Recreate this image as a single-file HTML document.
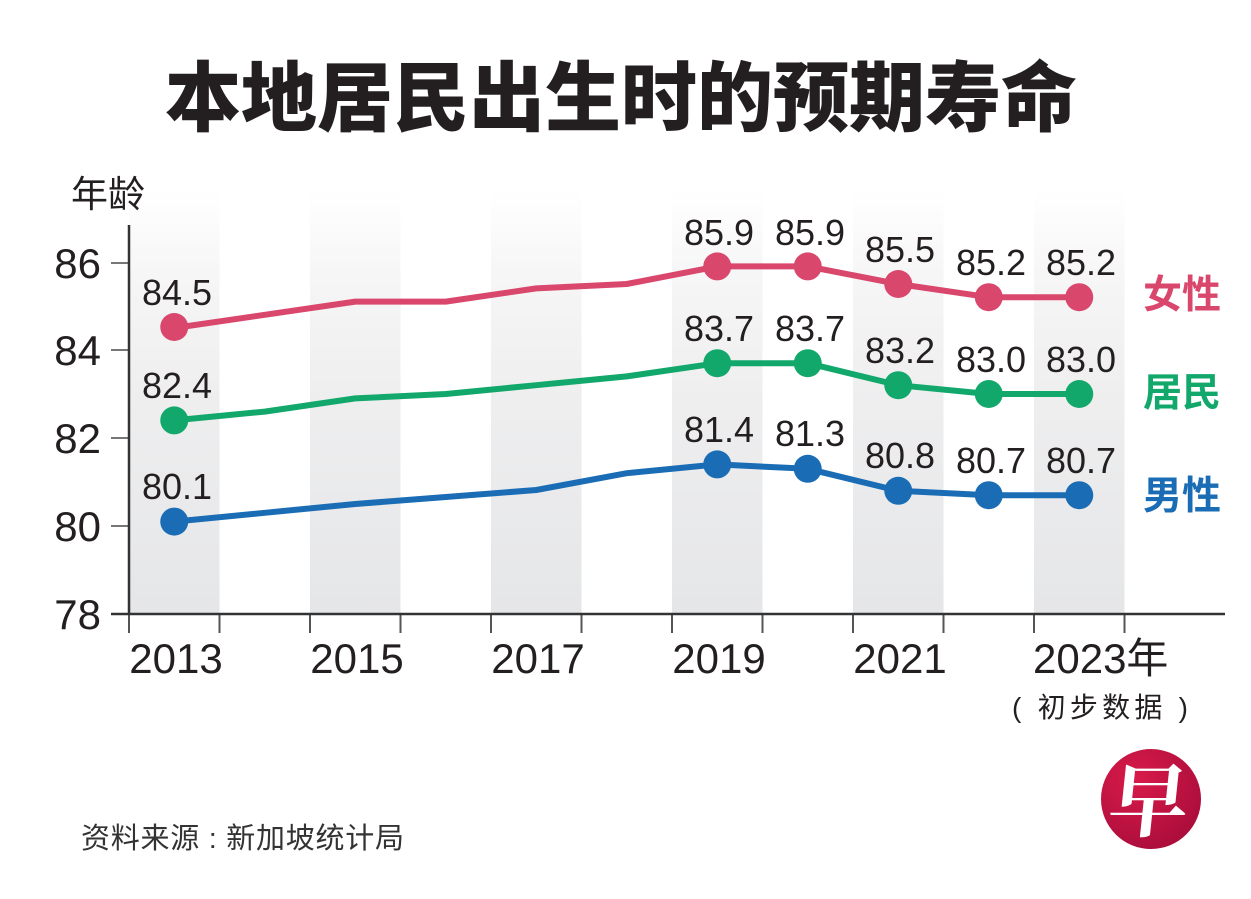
<!DOCTYPE html>
<html>
<head>
<meta charset="utf-8">
<style>
  html, body { margin:0; padding:0; background:#fff; }
  svg { display:block; }
  .num { font-family: "Liberation Sans", Arial, sans-serif; fill:#231f20; }
  .cjk { font-family: "Liberation Sans", "Noto Sans CJK SC", sans-serif; }
</style>
</head>
<body>
<svg width="1251" height="899" viewBox="0 0 1251 899" xmlns="http://www.w3.org/2000/svg">
  <defs>
    <linearGradient id="stripe" x1="0" y1="190" x2="0" y2="614" gradientUnits="userSpaceOnUse">
      <stop offset="0" stop-color="#ffffff"/>
      <stop offset="0.2" stop-color="#f6f6f6"/>
      <stop offset="0.5" stop-color="#eeeeef"/>
      <stop offset="1" stop-color="#e5e6e8"/>
    </linearGradient>
    <radialGradient id="logo" cx="0.35" cy="0.3" r="0.8">
      <stop offset="0" stop-color="#d81b4a"/>
      <stop offset="1" stop-color="#a80c3a"/>
    </radialGradient>
  </defs>

  <rect width="1251" height="899" fill="#fff"/>

  <!-- Title -->
  <text x="165" y="125" class="cjk" font-size="76" font-weight="900" fill="#231f20" textLength="912" lengthAdjust="spacingAndGlyphs">本地居民出生时的预期寿命</text>

  <!-- stripes -->
  <rect x="129" y="190" width="90.5" height="424" fill="url(#stripe)"/>
  <rect x="310" y="190" width="90.5" height="424" fill="url(#stripe)"/>
  <rect x="491" y="190" width="90.5" height="424" fill="url(#stripe)"/>
  <rect x="672" y="190" width="90.5" height="424" fill="url(#stripe)"/>
  <rect x="853" y="190" width="90.5" height="424" fill="url(#stripe)"/>
  <rect x="1034" y="190" width="90.5" height="424" fill="url(#stripe)"/>

  <!-- Y label -->
  <text x="71" y="207" class="cjk" font-size="37" fill="#231f20">年龄</text>

  <!-- Y ticks -->
  <g stroke="#777" stroke-width="2">
    <line x1="111" y1="263" x2="129" y2="263"/>
    <line x1="111" y1="350" x2="129" y2="350"/>
    <line x1="111" y1="438" x2="129" y2="438"/>
    <line x1="111" y1="526" x2="129" y2="526"/>
  </g>
  <!-- X ticks -->
  <g stroke="#555" stroke-width="2">
    <line x1="129" y1="614" x2="129" y2="633"/>
    <line x1="219.5" y1="614" x2="219.5" y2="633"/>
    <line x1="310" y1="614" x2="310" y2="633"/>
    <line x1="400.5" y1="614" x2="400.5" y2="633"/>
    <line x1="491" y1="614" x2="491" y2="633"/>
    <line x1="581.5" y1="614" x2="581.5" y2="633"/>
    <line x1="672" y1="614" x2="672" y2="633"/>
    <line x1="762.5" y1="614" x2="762.5" y2="633"/>
    <line x1="853" y1="614" x2="853" y2="633"/>
    <line x1="943.5" y1="614" x2="943.5" y2="633"/>
    <line x1="1034" y1="614" x2="1034" y2="633"/>
    <line x1="1124.5" y1="614" x2="1124.5" y2="633"/>
  </g>
  <!-- axes -->
  <line x1="129" y1="225" x2="129" y2="615" stroke="#333" stroke-width="2.5"/>
  <line x1="111" y1="614" x2="1225" y2="614" stroke="#333" stroke-width="2.5"/>

  <!-- Y tick labels -->
  <g class="num" font-size="42" text-anchor="end">
    <text x="101" y="278">86</text>
    <text x="101" y="365">84</text>
    <text x="101" y="453">82</text>
    <text x="101" y="541">80</text>
    <text x="101" y="629">78</text>
  </g>

  <!-- X tick labels -->
  <g class="num" font-size="42" text-anchor="middle">
    <text x="176" y="673">2013</text>
    <text x="357" y="673">2015</text>
    <text x="538" y="673">2017</text>
    <text x="719" y="673">2019</text>
    <text x="900" y="673">2021</text>
  </g>
  <text x="1033" y="673" class="num cjk" font-size="42" fill="#231f20">2023年</text>
  <text x="1100" y="717" class="cjk" font-size="28" fill="#231f20" text-anchor="middle" textLength="176" lengthAdjust="spacing">( 初步数据 )</text>

  <!-- Female -->
  <polyline fill="none" stroke="#d9476d" stroke-width="6" stroke-linejoin="round"
    points="174.25,328 264.75,314.8 355.25,301.6 445.75,301.6 536.25,288.4 626.75,284 717.25,266.4 807.75,266.4 898.25,284 988.75,297.2 1079.25,297.2"/>
  <g fill="#d9476d">
    <circle cx="174.25" cy="327" r="14"/>
    <circle cx="717.25" cy="266.4" r="14"/>
    <circle cx="807.75" cy="266.4" r="14"/>
    <circle cx="898.25" cy="284" r="14"/>
    <circle cx="988.75" cy="297.2" r="14"/>
    <circle cx="1079.25" cy="297.2" r="14"/>
  </g>

  <!-- Residents -->
  <polyline fill="none" stroke="#12a86b" stroke-width="6" stroke-linejoin="round"
    points="174.25,420.4 264.75,411.6 355.25,398.4 445.75,394 536.25,385.2 626.75,376.4 717.25,363.2 807.75,363.2 898.25,385.2 988.75,394 1079.25,394"/>
  <g fill="#12a86b">
    <circle cx="174.25" cy="420.4" r="14"/>
    <circle cx="717.25" cy="363.2" r="14"/>
    <circle cx="807.75" cy="363.2" r="14"/>
    <circle cx="898.25" cy="385.2" r="14"/>
    <circle cx="988.75" cy="394" r="14"/>
    <circle cx="1079.25" cy="394" r="14"/>
  </g>

  <!-- Male -->
  <polyline fill="none" stroke="#1a6db5" stroke-width="6" stroke-linejoin="round"
    points="174.25,521.6 264.75,512.8 355.25,504 445.75,497 536.25,490 626.75,473.2 717.25,464.4 807.75,468.8 898.25,490.8 988.75,495.2 1079.25,495.2"/>
  <g fill="#1a6db5">
    <circle cx="174.25" cy="521.6" r="14"/>
    <circle cx="717.25" cy="464.4" r="14"/>
    <circle cx="807.75" cy="468.8" r="14"/>
    <circle cx="898.25" cy="490.8" r="14"/>
    <circle cx="988.75" cy="495.2" r="14"/>
    <circle cx="1079.25" cy="495.2" r="14"/>
  </g>

  <!-- data labels -->
  <g class="num" font-size="36" text-anchor="middle">
    <text x="177" y="305">84.5</text>
    <text x="719" y="245">85.9</text>
    <text x="810" y="245">85.9</text>
    <text x="900" y="262">85.5</text>
    <text x="991" y="275">85.2</text>
    <text x="1081" y="275">85.2</text>

    <text x="177" y="398">82.4</text>
    <text x="719" y="341">83.7</text>
    <text x="810" y="341">83.7</text>
    <text x="900" y="363">83.2</text>
    <text x="991" y="372">83.0</text>
    <text x="1081" y="372">83.0</text>

    <text x="177" y="499">80.1</text>
    <text x="719" y="442">81.4</text>
    <text x="810" y="446">81.3</text>
    <text x="900" y="468">80.8</text>
    <text x="991" y="473">80.7</text>
    <text x="1081" y="473">80.7</text>
  </g>

  <!-- series labels -->
  <g class="cjk" font-size="39" font-weight="bold">
    <text x="1143" y="308" fill="#d9476d">女性</text>
    <text x="1143" y="406" fill="#12a86b">居民</text>
    <text x="1143" y="509" fill="#1a6db5">男性</text>
  </g>

  <!-- source -->
  <text x="81" y="848" class="cjk" font-size="29" fill="#333" textLength="323" lengthAdjust="spacing">资料来源 : 新加坡统计局</text>

  <!-- logo -->
  <circle cx="1151" cy="799" r="50" fill="url(#logo)"/>
  <text x="1149" y="830" font-family="'Noto Serif CJK SC', 'Noto Sans CJK SC', serif" font-weight="bold" font-size="80" fill="#fff" text-anchor="middle" transform="skewX(-6) translate(84,0)">早</text>
</svg>
</body>
</html>
